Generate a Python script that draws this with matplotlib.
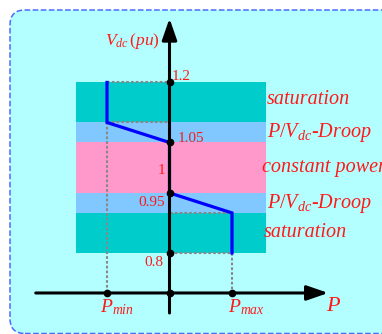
import numpy as np
import matplotlib
matplotlib.use("Agg")
import matplotlib.pyplot as plt
from matplotlib.patches import FancyBboxPatch

plt.rcParams['font.family'] = ['Liberation Serif', 'DejaVu Serif']
plt.rcParams['mathtext.fontset'] = 'custom'
plt.rcParams['mathtext.rm'] = 'Liberation Serif'
plt.rcParams['mathtext.it'] = 'Liberation Serif:italic'

# P/Vdc characteristic (per unit)
p_min, p_max = -1.0, 1.0
curve_p = [p_min, p_min, 0.0, 0.0, p_max, p_max]
curve_v = [1.2, 1.1, 1.05, 0.95, 0.9, 0.8]

# operating bands
band_lo = [1.1, 1.05, 0.95, 0.9, 0.8]
band_hi = [1.2, 1.1, 1.05, 0.95, 0.9]
band_colors = ['#00cccc', '#80c8ff', '#ff99cc', '#80c8ff', '#00cccc']
band_labels = ['saturation', r'$P/V_{dc}$-Droop', 'constant power',
               r'$P/V_{dc}$-Droop', 'saturation']

tick_text = ['1.2', '1.05', '1', '0.95', '0.8']
marked_v = [1.2, 1.05, 0.95, 0.8]

RED = '#ff1a1a'

# the constant power band is drawn a bit taller than the rest
STRETCH = 0.26


def fwd(v):
    v = np.asarray(v, dtype=float)
    return v + STRETCH * np.clip(v - 0.95, 0, 0.1)


def inv(u):
    u = np.asarray(u, dtype=float)
    top = 1.05 + 0.1 * STRETCH
    return np.where(u <= 0.95, u,
                    np.where(u <= top, 0.95 + (u - 0.95) / (1 + STRETCH),
                             u - 0.1 * STRETCH))


fig = plt.figure(figsize=(3.82, 3.34), dpi=100)
fig.patch.set_facecolor('white')

frame = FancyBboxPatch((0.10, 0.005), 4.0, 3.235,
                       boxstyle='round,pad=0,rounding_size=0.15',
                       transform=fig.dpi_scale_trans,
                       fc='#b3ffff', ec='#4a6cff', ls='--', lw=1.1,
                       zorder=-10)
fig.add_artist(frame)

ax = fig.add_axes([0, 0, 1, 1])
ax.set_yscale('function', functions=(fwd, inv))
ax.set_xlim(-2.712, 3.4)
ax.set_ylim(0.5975, 1.406)
ax.axis('off')
ax.patch.set_alpha(0)

# coloured bands
for lo, hi, c in zip(band_lo, band_hi, band_colors):
    ax.fill_between([-1.5, 1.55], lo, hi, color=c, lw=0, zorder=1)

# dotted guides
dot_kw = dict(color='#888888', lw=1.5, dashes=(1.3, 1.0), zorder=2)
ax.plot([p_min, 0], [1.2, 1.2], **dot_kw)
ax.plot([p_min, 0], [1.1, 1.1], **dot_kw)
ax.plot([p_min, p_min], [1.1, 0.7], **dot_kw)
ax.plot([0, p_max], [0.9, 0.9], **dot_kw)
ax.plot([0, p_max], [0.8, 0.8], **dot_kw)
ax.plot([p_max, p_max], [0.8, 0.7], **dot_kw)

# characteristic
ax.plot(curve_p, curve_v, color='#0000ff', lw=2.3, zorder=3,
        solid_joinstyle='miter')

# axes arrows
arrow = dict(arrowstyle='-|>,head_length=1.3,head_width=0.45',
             mutation_scale=10, lw=2.2, color='black',
             shrinkA=0, shrinkB=0)
ax.annotate('', xy=(0, 1.36), xytext=(0, 0.65), arrowprops=arrow, zorder=4)
ax.annotate('', xy=(2.54, 0.7), xytext=(-2.14, 0.7), arrowprops=arrow, zorder=4)

# marker dots
ax.plot([0] * len(marked_v), marked_v, 'o', color='black', ms=4.5, zorder=5)
ax.plot([p_min, 0, p_max], [0.7, 0.7, 0.7], 'o', color='black', ms=4.5, zorder=5)

# value labels on the vertical axis
tick_pos = [(0.04, 1.206, 'left'), (0.13, 1.05, 'left'),
            (-0.07, 0.988, 'right'), (-0.07, 0.9175, 'right'),
            (-0.10, 0.7675, 'right')]
for (x, y, ha), txt in zip(tick_pos, tick_text):
    ax.text(x, y, txt, color=RED, fontsize=11, ha=ha, va='baseline', zorder=6)

# band names on the right
label_y = [1.146, 1.064, 0.992, 0.9125, 0.84]
label_x = [1.56, 1.56, 1.48, 1.56, 1.51]
for x, y, txt in zip(label_x, label_y, band_labels):
    ax.text(x, y, txt, color=RED, fontsize=14.5, style='italic',
            ha='left', va='baseline', zorder=6)

ax.text(-0.15, 1.294, r'$V_{dc}\,(pu)$', color=RED, fontsize=12.5,
        ha='right', va='baseline', zorder=6)
ax.text(p_min - 0.11, 0.6525, r'$P_{min}$', color=RED, fontsize=14,
        ha='left', va='baseline', zorder=6)
ax.text(p_max - 0.07, 0.6525, r'$P_{max}$', color=RED, fontsize=14,
        ha='left', va='baseline', zorder=6)
ax.text(2.62, 0.655, r'$P$', color=RED, fontsize=16,
        ha='center', va='baseline', zorder=6)

fig.savefig('out.png', dpi=100, facecolor=fig.get_facecolor())
